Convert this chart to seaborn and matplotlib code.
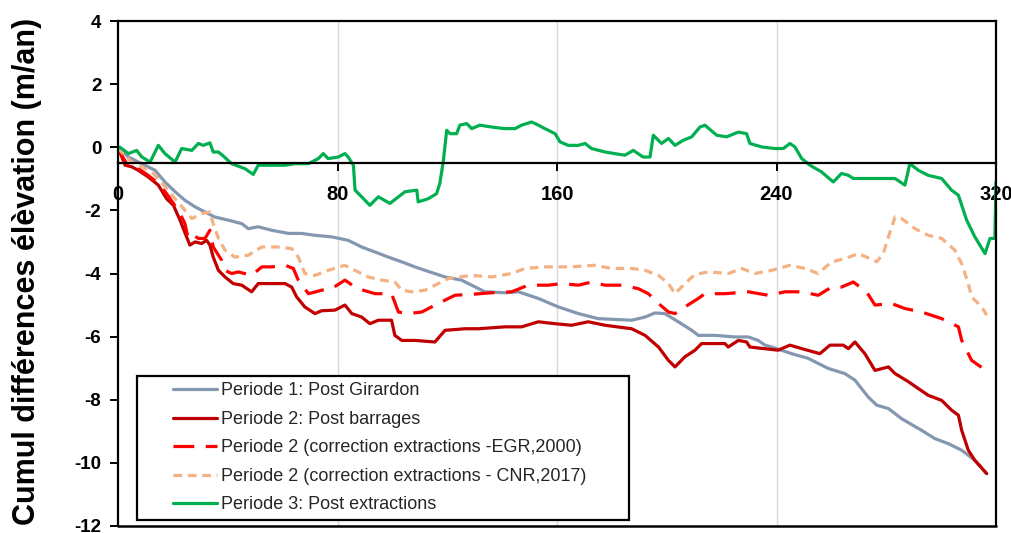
import numpy as np
import pandas as pd
import seaborn as sns
import matplotlib
matplotlib.use("Agg")
import matplotlib.pyplot as plt
from matplotlib.lines import Line2D
from matplotlib.legend_handler import HandlerLine2D

# ---------------- data ----------------
labels = [
    "Periode 1: Post Girardon",
    "Periode 2: Post barrages",
    "Periode 2 (correction extractions -EGR,2000)",
    "Periode 2 (correction extractions - CNR,2017)",
    "Periode 3: Post extractions",
]

p1_x = [0, 0.7, 3.8, 8.6, 13.5, 17.1, 20.8, 24.4, 28.1, 31.7, 35.3, 40.2, 45.1, 47.5, 51.1, 56.0,
        62.1, 66.9, 71.8, 77.9, 83.9, 88.8, 93.7, 98.5, 103.4, 108.2, 111.9, 119.2, 125.2, 128.9,
        133.7, 141.0, 145.9, 153.2, 160.5, 167.8, 175.0, 182.3, 187.2, 192.1, 195.7, 199.3, 204.2,
        209.1, 211.5, 217.6, 224.8, 229.7, 233.3, 235.8, 240.1, 245.5, 251.6, 258.9, 264.9, 268.6,
        273.4, 276.5, 280.8, 285.6, 292.9, 297.7, 302.6, 307.5, 312.3, 316.6]
p1_y = [0, -0.04, -0.31, -0.52, -0.73, -1.10, -1.41, -1.68, -1.89, -2.05, -2.21, -2.31, -2.42, -2.58,
        -2.52, -2.63, -2.73, -2.73, -2.79, -2.84, -2.95, -3.16, -3.32, -3.48, -3.63, -3.79, -3.90,
        -4.11, -4.21, -4.37, -4.58, -4.61, -4.58, -4.79, -5.06, -5.27, -5.43, -5.46, -5.48, -5.38,
        -5.25, -5.27, -5.53, -5.80, -5.96, -5.96, -6.01, -6.01, -6.12, -6.27, -6.38, -6.54, -6.69,
        -7.01, -7.17, -7.38, -7.91, -8.17, -8.28, -8.60, -8.97, -9.23, -9.39, -9.60, -9.92, -10.34]

p2_x = [0, 2.6, 5.0, 7.4, 11.0, 14.7, 17.7, 20.2, 22.6, 25.0, 26.2, 28.1, 30.5, 32.3, 33.5, 34.7,
        36.6, 39.0, 42.0, 45.1, 48.7, 51.1, 56.0, 60.9, 63.3, 65.1, 68.1, 71.8, 74.2, 79.1, 82.7,
        85.2, 88.8, 91.8, 94.9, 99.7, 100.9, 103.4, 108.2, 115.5, 119.2, 126.5, 131.4, 141.0, 147.1,
        153.2, 159.3, 165.3, 171.4, 177.5, 187.2, 192.1, 197.0, 200.6, 203.0, 206.6, 210.3, 212.7,
        221.2, 222.4, 226.1, 229.1, 230.3, 240.6, 244.9, 249.2, 255.8, 259.5, 264.3, 266.2, 268.6,
        272.2, 275.9, 280.8, 283.2, 288.1, 295.3, 300.2, 303.8, 306.3, 307.5, 309.9, 312.3, 316.6]
p2_y = [0, -0.57, -0.62, -0.73, -0.94, -1.20, -1.63, -1.84, -2.31, -2.84, -3.10, -3.00, -3.05, -2.95,
        -3.10, -3.48, -3.90, -4.11, -4.32, -4.37, -4.58, -4.32, -4.32, -4.32, -4.43, -4.74, -5.06,
        -5.27, -5.18, -5.16, -5.00, -5.27, -5.38, -5.59, -5.48, -5.48, -5.96, -6.12, -6.12, -6.17,
        -5.80, -5.75, -5.75, -5.69, -5.69, -5.53, -5.59, -5.64, -5.53, -5.64, -5.75, -5.96, -6.33,
        -6.75, -6.96, -6.64, -6.43, -6.22, -6.22, -6.33, -6.12, -6.17, -6.33, -6.43, -6.27, -6.38,
        -6.54, -6.27, -6.27, -6.38, -6.17, -6.54, -7.07, -6.96, -7.17, -7.43, -7.86, -8.02, -8.33,
        -8.49, -8.97, -9.60, -9.92, -10.34]

egr_x = [0, 0.7, 3.8, 7.4, 11.0, 14.7, 17.7, 20.2, 22.6, 24.4, 25.6, 27.5, 29.3, 31.7, 33.5, 34.7,
         37.8, 39.0, 41.4, 43.9, 48.7, 52.4, 56.0, 60.9, 63.9, 65.7, 69.4, 74.2, 77.9, 82.7, 86.4,
         89.4, 93.7, 99.7, 102.2, 105.8, 110.7, 116.7, 122.8, 128.9, 136.2, 143.5, 149.5, 156.8,
         161.7, 167.8, 172.6, 177.5, 183.6, 189.6, 193.3, 197.0, 200.6, 203.0, 206.6, 211.5, 213.9,
         221.2, 229.7, 237.0, 243.1, 249.2, 255.2, 260.1, 263.7, 268.0, 272.8, 275.9, 281.9, 286.8,
         292.9, 300.2, 306.3, 307.5, 311.1, 315.3, 316.6]
egr_y = [0, -0.15, -0.62, -0.68, -0.89, -1.15, -1.47, -1.78, -2.10, -2.42, -2.89, -2.79, -2.89, -2.89,
         -2.63, -3.16, -3.58, -3.90, -4.00, -3.95, -4.06, -3.79, -3.79, -3.74, -3.84, -4.21, -4.64,
         -4.53, -4.48, -4.21, -4.43, -4.53, -4.64, -4.64, -5.22, -5.27, -5.22, -4.95, -4.69, -4.66,
         -4.61, -4.58, -4.37, -4.37, -4.32, -4.37, -4.27, -4.37, -4.37, -4.48, -4.64, -4.95, -5.22,
         -5.27, -5.06, -4.79, -4.64, -4.64, -4.58, -4.69, -4.58, -4.58, -4.69, -4.43, -4.43, -4.27,
         -4.58, -5.00, -4.95, -5.11, -5.22, -5.43, -5.69, -6.12, -6.75, -7.01, -7.28]

cnr_x = [0, 0.7, 5.0, 8.6, 12.3, 14.7, 17.7, 20.8, 24.4, 26.9, 30.5, 33.5, 34.7, 36.6, 39.0, 42.6,
         47.5, 52.4, 58.4, 63.3, 65.7, 68.1, 71.8, 76.6, 82.7, 86.4, 91.2, 96.1, 100.9, 103.4, 107.0,
         111.9, 116.7, 120.4, 128.9, 136.2, 143.5, 148.3, 155.6, 160.5, 165.3, 173.8, 179.9, 187.2,
         192.1, 197.0, 200.6, 203.0, 206.6, 210.3, 215.1, 222.4, 227.3, 232.1, 238.2, 244.9, 250.4,
         255.2, 260.1, 264.9, 269.8, 272.8, 276.5, 278.9, 280.8, 283.2, 285.6, 290.5, 295.3, 300.2,
         305.0, 307.5, 309.9, 311.1, 314.8, 316.6]
cnr_y = [0, -0.10, -0.47, -0.62, -0.78, -1.00, -1.31, -1.63, -2.00, -2.26, -2.10, -2.05, -2.42, -2.89,
         -3.26, -3.48, -3.42, -3.16, -3.16, -3.21, -3.48, -4.00, -4.06, -3.90, -3.74, -3.90, -4.11,
         -4.21, -4.27, -4.53, -4.58, -4.53, -4.32, -4.16, -4.06, -4.11, -4.00, -3.84, -3.79, -3.79,
         -3.79, -3.74, -3.84, -3.84, -3.90, -4.06, -4.32, -4.64, -4.32, -4.03, -3.95, -4.00, -3.84,
         -4.00, -3.90, -3.74, -3.84, -4.00, -3.63, -3.53, -3.37, -3.48, -3.63, -3.37, -2.84, -2.21,
         -2.26, -2.58, -2.79, -2.89, -3.26, -3.69, -4.32, -4.74, -5.06, -5.32]

p3_x = [0, 0.7, 3.8, 6.8, 8.6, 11.7, 14.7, 17.1, 20.8, 23.2, 26.9, 29.3, 31.1, 33.5, 34.7, 36.6,
        38.4, 41.4, 46.3, 49.3, 51.1, 56.0, 60.9, 64.5, 69.4, 73.0, 74.8, 76.6, 80.3, 82.7, 83.9,
        85.8, 86.4, 88.8, 91.8, 94.9, 99.1, 104.6, 108.9, 109.4, 113.1, 116.1, 117.3, 118.6, 119.8,
        121.0, 123.4, 124.6, 127.1, 128.9, 131.9, 136.2, 141.0, 144.7, 147.1, 150.8, 153.2, 155.6,
        159.3, 161.1, 164.1, 167.8, 170.2, 172.6, 177.5, 182.3, 184.8, 187.8, 191.4, 193.9, 195.1,
        198.1, 200.6, 203.0, 206.0, 209.1, 212.1, 213.9, 218.2, 221.8, 226.1, 229.1, 230.3, 234.6,
        239.4, 242.5, 244.9, 246.7, 249.2, 252.2, 256.4, 260.7, 263.7, 266.2, 268.0, 273.4, 283.2,
        286.8, 288.6, 291.7, 295.3, 300.2, 303.8, 306.3, 309.3, 312.3, 316.0, 317.8, 319.6, 320.0]
p3_y = [0, 0.00, -0.20, -0.10, -0.30, -0.47, 0.06, -0.20, -0.47, -0.04, -0.10, 0.12, 0.06, 0.14,
        -0.15, -0.15, -0.28, -0.52, -0.68, -0.86, -0.57, -0.57, -0.57, -0.52, -0.52, -0.36, -0.20,
        -0.36, -0.31, -0.20, -0.31, -0.57, -1.36, -1.57, -1.84, -1.57, -1.78, -1.41, -1.36, -1.73,
        -1.63, -1.47, -1.15, -0.41, 0.54, 0.43, 0.43, 0.70, 0.75, 0.59, 0.70, 0.64, 0.59, 0.59, 0.70,
        0.80, 0.70, 0.59, 0.43, 0.17, 0.06, 0.06, 0.12, -0.04, -0.15, -0.22, -0.25, -0.10, -0.31,
        -0.31, 0.38, 0.12, 0.28, 0.06, 0.22, 0.33, 0.64, 0.70, 0.38, 0.33, 0.48, 0.43, 0.12, 0.01,
        -0.04, -0.04, 0.12, 0.01, -0.36, -0.57, -0.78, -1.10, -0.83, -0.89, -0.99, -0.99, -0.99,
        -1.20, -0.52, -0.73, -0.89, -0.99, -1.36, -1.52, -2.31, -2.84, -3.37, -2.89, -2.89, -1.10]

x_ticks = [0, 80, 160, 240, 320]
y_ticks = [-12, -10, -8, -6, -4, -2, 0, 2, 4]
y_label = "Cumul différences élèvation (m/an)"

# ---------------- styling ----------------
sns.set_style("white")
plt.rcParams["font.family"] = ["Liberation Sans", "DejaVu Sans"]
plt.rcParams["axes.unicode_minus"] = False

fig = plt.figure(figsize=(10.12, 5.33), dpi=100)
ax = fig.add_axes([118 / 1012, 1 - 526 / 533, (996 - 118) / 1012, (526 - 21) / 533])

series = [
    (p1_x, p1_y, "#8497b0", "-"),
    (p2_x, p2_y, "#c00000", "-"),
    (egr_x, egr_y, "#ff0000", (0, (6.5, 3.6))),
    (cnr_x, cnr_y, "#f4b183", (0, (2.7, 1.8))),
    (p3_x, p3_y, "#00b050", "-"),
]

for (xs, ys, col, ls), lab in zip(series, labels):
    df = pd.DataFrame({"x": xs, "y": ys})
    sns.lineplot(data=df, x="x", y="y", ax=ax, color=col, linewidth=2.3,
                 linestyle=ls, label=lab, estimator=None, sort=False,
                 dash_capstyle="butt", solid_joinstyle="round")

# frame (position the x-axis spine first: this resets the tick objects)
ax.spines["bottom"].set_position(("data", -0.5))
for s in ["top", "left", "right", "bottom"]:
    ax.spines[s].set_color("black")
    ax.spines[s].set_linewidth(1.6)
ax.axhline(-12, color="black", lw=1.8, clip_on=False, zorder=5)

ax.set_xlim(0, 320)
ax.set_ylim(-12, 4)
ax.set_xticks(x_ticks)
ax.set_yticks(y_ticks)
ax.set_xticklabels([str(v) for v in x_ticks], fontsize=14.5, fontweight="bold")
ax.set_yticklabels([str(v) for v in y_ticks], fontsize=13.5, fontweight="bold")

# vertical grid
for xv in x_ticks[1:-1]:
    ax.axvline(xv, color="#d9d9d9", lw=1.0, zorder=0)

ax.tick_params(axis="x", direction="out", length=6, width=1.4, color="black", pad=10,
               bottom=True, labelcolor="black")
ax.tick_params(axis="y", direction="out", length=6, width=1.4, color="black", pad=6,
               left=True, labelcolor="black")

ax.set_xlabel("")
ax.set_ylabel(y_label, fontsize=22, fontweight="bold", color="black")
ax.yaxis.set_label_coords(-0.087, 0.505)

# legend
leg = ax.legend(loc="lower left", bbox_to_anchor=(0.0216, 0.0119, 0.5604, 0.3),
                mode="expand", borderaxespad=0, fontsize=13, frameon=True, fancybox=False,
                framealpha=1, edgecolor="black", borderpad=0.36, labelspacing=0.64,
                handlelength=4.07, handletextpad=0.22,
                handler_map={Line2D: HandlerLine2D(xpad=1.63)})
leg.get_frame().set_linewidth(1.6)
for t in leg.get_texts():
    t.set_color("#262626")

fig.savefig("out.png", dpi=100)
